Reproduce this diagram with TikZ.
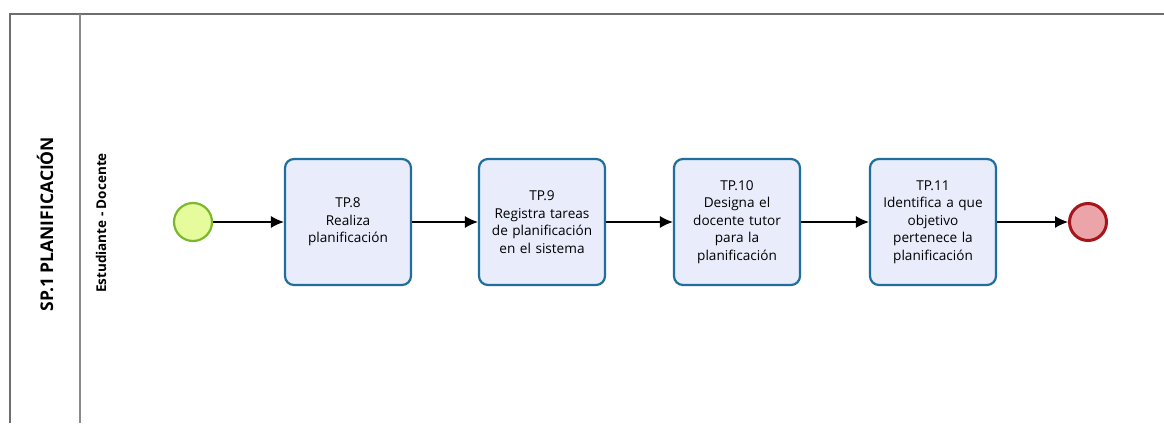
\documentclass[tikz,border=0pt]{standalone}
\usepackage{fontspec}
\setmainfont{Open Sans}
\usetikzlibrary{arrows.meta, positioning}

\definecolor{taskfill}{HTML}{E8ECFB}
\definecolor{taskline}{HTML}{1F6E9C}
\definecolor{startfill}{HTML}{E6FB9C}
\definecolor{startline}{HTML}{7AB82E}
\definecolor{endfill}{HTML}{EBA4A7}
\definecolor{endline}{HTML}{A6141C}
\definecolor{poolline}{HTML}{6E6E6E}

\tikzset{
    task/.style={draw=taskline, fill=taskfill, line width=2.2pt, rounded corners=9pt,
        minimum width=126pt, minimum height=126pt, text width=122pt, align=center,
        font=\fontsize{13.6}{17.5}\selectfont, inner sep=0pt},
    startev/.style={draw=startline, fill=startfill, circle, line width=2.2pt, minimum size=38pt, inner sep=0pt},
    endev/.style={draw=endline, fill=endfill, circle, line width=3pt, minimum size=37pt, inner sep=0pt},
    flow/.style={-{Latex[length=13pt, width=12pt]}, line width=1.3pt}
}

\begin{document}
\begin{tikzpicture}[x=1pt, y=-1pt]
                \useasboundingbox (0,0) rectangle (1164,423);
                \fill[white] (0,0) rectangle (1164,423);

                % pool and lane
                \draw[poolline, line width=1.5pt] (10,423) -- (10,14) -- (1164,14);
                \draw[poolline!80, line width=1.5pt] (80,14) -- (80,423);
                \node[rotate=90, font=\bfseries\fontsize{17.5}{20}\selectfont] (pool) at (45,224) {SP.1 PLANIFICACIÓN};
                \node[rotate=90, font=\bfseries\fontsize{13.5}{15}\selectfont] (lane) at (101,223) {Estudiante - Docente};

                \node[startev] (start) at (193,222) {};
                \node[task] (tp8) at (348,222) {TP.8\\Realiza\\planificación};
                \node[task] (tp9) at (542,222) {TP.9\\Registra tareas\\de planificación\\en el sistema};
                \node[task] (tp10) at (737,222) {TP.10\\Designa el\\docente tutor\\para la\\planificación};
                \node[task] (tp11) at (933,222) {TP.11\\Identifica a que\\objetivo\\pertenece la\\planificación};
                \node[endev] (end) at (1088,222) {};

                \draw[flow] (start) -- (tp8);
                \draw[flow] (tp8) -- (tp9);
                \draw[flow] (tp9) -- (tp10);
                \draw[flow] (tp10) -- (tp11);
                \draw[flow] (tp11) -- (end);
            \end{tikzpicture}
\end{document}
